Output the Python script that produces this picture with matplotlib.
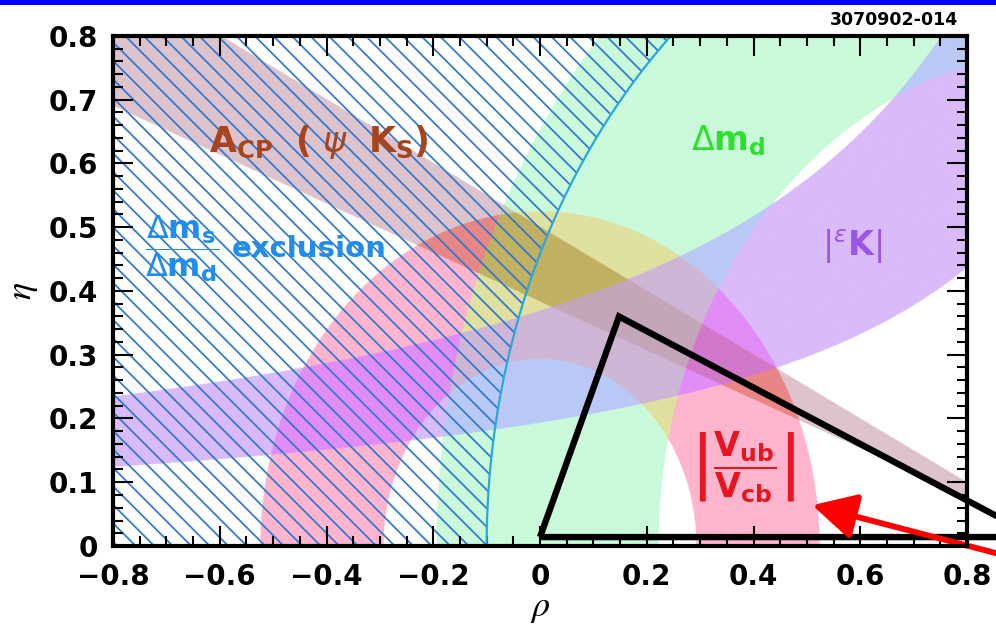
import numpy as np
import matplotlib
matplotlib.use("Agg")
import matplotlib.pyplot as plt
from matplotlib.path import Path
from matplotlib.patches import PathPatch, Rectangle
from matplotlib.collections import LineCollection
from matplotlib.ticker import MultipleLocator, FixedLocator, FixedFormatter

# ---- plane and ticks -------------------------------------------------------
rho_range = [-0.8, 0.8]
eta_range = [0.0, 0.8]
x_ticks = [-0.8, -0.6, -0.4, -0.2, 0.0, 0.2, 0.4, 0.6, 0.8]
x_ticklabels = ["\u22120.8", "\u22120.6", "\u22120.4", "\u22120.2", "0", "0.2", "0.4", "0.6", "0.8"]
y_ticks = [0.0, 0.1, 0.2, 0.3, 0.4, 0.5, 0.6, 0.7, 0.8]
y_ticklabels = ["0", "0.1", "0.2", "0.3", "0.4", "0.5", "0.6", "0.7", "0.8"]

# ---- constraints in the (rho, eta) plane ----------------------------------
# |Vub/Vcb| : annulus about (0, 0)
vub_center = (0.0, 0.0)
vub_radii = (0.293, 0.524)
# Delta m_d : annulus about (1, 0)
dmd_center = (1.0, 0.0)
dmd_radii = (0.778, 1.194)
# Delta m_s / Delta m_d : region outside a circle about (1, 0) is excluded
dms_center = (1.0, 0.0)
dms_radius = 1.10
# |eps_K| : band between hyperbolae  eta = a / (b - rho)
epsk_lower = (0.277, 1.435)
epsk_upper = (0.514, 1.395)
# A_CP(psi K_S) : wedge from (1, 0), tan(beta) limits
acp_tanbeta = (0.383, 0.500)
# unitarity triangle
tri_rho = [0.0, 0.148, 0.93, 0.0]
tri_eta = [0.014, 0.360, 0.014, 0.014]
# arrow pointing at the |Vub/Vcb| band
arrow_tip = (0.51, 0.064)
arrow_tail = (1.00, -0.043)

# fill colour for each combination of (dmd, vub, epsk, acp)
region_colors = {
    (0, 0, 0, 0): (255, 255, 255),
    (1, 0, 0, 0): (202, 250, 218),
    (0, 1, 0, 0): (255, 181, 206),
    (0, 0, 1, 0): (218, 187, 250),
    (0, 0, 0, 1): (221, 195, 205),
    (1, 1, 0, 0): (224, 224, 160),
    (1, 0, 1, 0): (186, 201, 245),
    (1, 0, 0, 1): (200, 205, 170),
    (0, 1, 1, 0): (226, 140, 246),
    (0, 1, 0, 1): (232, 134, 134),
    (0, 0, 1, 1): (200, 155, 212),
    (1, 1, 1, 0): (206, 182, 214),
    (1, 1, 0, 1): (193, 177, 98),
    (1, 0, 1, 1): (182, 172, 205),
    (0, 1, 1, 1): (210, 120, 202),
    (1, 1, 1, 1): (196, 166, 186),
}

# ---- figure ----------------------------------------------------------------
plt.rcParams["font.family"] = ["DejaVu Sans"]

W, H, DPI = 9.96, 6.31, 100
fig = plt.figure(figsize=(W, H), dpi=DPI)
ax_rect = [0.1135, 0.1347, 0.8574, 0.8083]
ax = fig.add_axes(ax_rect)
ax.set_xlim(rho_range)
ax.set_ylim(eta_range)

# region map
nx, ny = 1700, 900
dx = (rho_range[1] - rho_range[0]) / nx
dy = (eta_range[1] - eta_range[0]) / ny
rho = rho_range[0] + (np.arange(nx) + 0.5) * dx
eta = eta_range[0] + (np.arange(ny) + 0.5) * dy
R, E = np.meshgrid(rho, eta)

r_vub = np.hypot(R - vub_center[0], E - vub_center[1])
in_vub = (r_vub >= vub_radii[0]) & (r_vub <= vub_radii[1])
r_dmd = np.hypot(R - dmd_center[0], E - dmd_center[1])
in_dmd = (r_dmd >= dmd_radii[0]) & (r_dmd <= dmd_radii[1])
in_eps = (E >= epsk_lower[0] / (epsk_lower[1] - R)) & (E <= epsk_upper[0] / (epsk_upper[1] - R))
in_acp = (E >= acp_tanbeta[0] * (1 - R)) & (E <= acp_tanbeta[1] * (1 - R))

lut = np.zeros((16, 3))
for (g, p, u, b), c in region_colors.items():
    lut[g * 8 + p * 4 + u * 2 + b] = np.array(c) / 255.0
code = in_dmd.astype(int) * 8 + in_vub.astype(int) * 4 + in_eps.astype(int) * 2 + in_acp.astype(int)
img = lut[code]
ax.imshow(img, origin="lower", extent=[rho_range[0], rho_range[1], eta_range[0], eta_range[1]],
          aspect="auto", interpolation="antialiased", zorder=0)

# excluded region inside the frame: outline used as clip for the hatching
eta_arc = np.linspace(eta_range[0], eta_range[1], 300)
rho_arc = dms_center[0] - np.sqrt(dms_radius ** 2 - (eta_arc - dms_center[1]) ** 2)
verts = np.column_stack([np.r_[rho_arc, rho_range[0], rho_range[0], rho_arc[0]],
                         np.r_[eta_arc, eta_range[1], eta_range[0], eta_arc[0]]])
excl = PathPatch(Path(verts, closed=True), facecolor="none", edgecolor="none", zorder=1)
ax.add_patch(excl)

# diagonal hatching at 45 degrees on screen
px_per_rho = ax_rect[2] * W * DPI / (rho_range[1] - rho_range[0])
px_per_eta = ax_rect[3] * H * DPI / (eta_range[1] - eta_range[0])
slope = px_per_rho / px_per_eta
step = 18.5 / px_per_rho
segs = []
for c in np.arange(-1.0, 1.5, step):
    r0, r1 = c + 0.1, c - 1.1
    segs.append([(r0, -slope * (r0 - c)), (r1, -slope * (r1 - c))])
hatch = LineCollection(segs, colors="#2c78d2", linewidths=1.25, zorder=1)
hatch.set_clip_path(excl)
ax.add_collection(hatch)
ax.plot(rho_arc, eta_arc, color="#2aa8dc", lw=1.6, zorder=2)

# unitarity triangle
ax.plot(tri_rho, tri_eta, color="black", lw=4.6, solid_joinstyle="miter",
        solid_capstyle="butt", clip_on=False, zorder=5)

# arrow
ax.annotate("", xy=arrow_tip, xytext=arrow_tail, annotation_clip=False,
            arrowprops=dict(arrowstyle="-|>,head_length=0.95,head_width=0.5",
                            mutation_scale=28, lw=4.2, color="#ff0000",
                            shrinkA=0, shrinkB=0, clip_on=False), zorder=6)

# labels of the constraints
ax.text(-0.621, 0.618, r"$\mathbf{A_{CP}}\ \ \mathbf{(}\ \psi\ \ \mathbf{K_S)}$",
        color="#a8441c", fontsize=25, ha="left", va="baseline", zorder=7)
ax.text(-0.670, 0.466, r"$\dfrac{\Delta\mathbf{m_s}}{\Delta\mathbf{m_d}}$",
        color="#1f8cf0", fontsize=23, ha="center", va="center", zorder=7)
ax.text(-0.578, 0.453, "exclusion", color="#1f8cf0", fontsize=21, fontweight="bold",
        ha="left", va="baseline", zorder=7)
ax.text(0.282, 0.621, r"$\Delta\mathbf{m_d}$", color="#2ee02e", fontsize=24,
        ha="left", va="baseline", zorder=7)
ax.text(0.585, 0.469, r"$|^{\varepsilon}\mathbf{K}|$", color="#9a55ea", fontsize=24,
        ha="center", va="center", zorder=7)
ax.text(0.379, 0.124, r"$\left|\dfrac{\mathbf{V_{ub}}}{\mathbf{V_{cb}}}\right|$",
        color="#e8141e", fontsize=24, ha="center", va="center", zorder=7)

# axes
ax.xaxis.set_major_locator(FixedLocator(x_ticks))
ax.xaxis.set_major_formatter(FixedFormatter(x_ticklabels))
ax.yaxis.set_major_locator(FixedLocator(y_ticks))
ax.yaxis.set_major_formatter(FixedFormatter(y_ticklabels))
ax.xaxis.set_minor_locator(MultipleLocator(0.05))
ax.yaxis.set_minor_locator(MultipleLocator(0.02))
ax.tick_params(which="both", direction="in", top=True, right=True, color="black", zorder=8)
ax.tick_params(which="major", length=14.5, width=1.5)
ax.tick_params(which="minor", length=7.5, width=1.5)
ax.tick_params(axis="x", which="major", pad=12, labelsize=20)
ax.tick_params(axis="y", which="major", pad=11, labelsize=20)
for lab in ax.get_xticklabels() + ax.get_yticklabels():
    lab.set_fontweight("bold")
for sp in ax.spines.values():
    sp.set_linewidth(3)
    sp.set_zorder(8)

ax.set_xlabel(r"$\rho$", fontsize=26, math_fontfamily="stix", labelpad=0)
ax.set_ylabel(r"$\eta$", fontsize=26, math_fontfamily="stix", labelpad=6)

# header decoration
fig.add_artist(Rectangle((0, 1 - 5 / 631), 1, 5 / 631, transform=fig.transFigure,
                         facecolor="#0000ff", edgecolor="none"))
fig.text(0.962, 0.968, "3070902-014", fontsize=12.5, fontweight="bold",
         ha="right", va="center")

fig.savefig("out.png", dpi=DPI)
